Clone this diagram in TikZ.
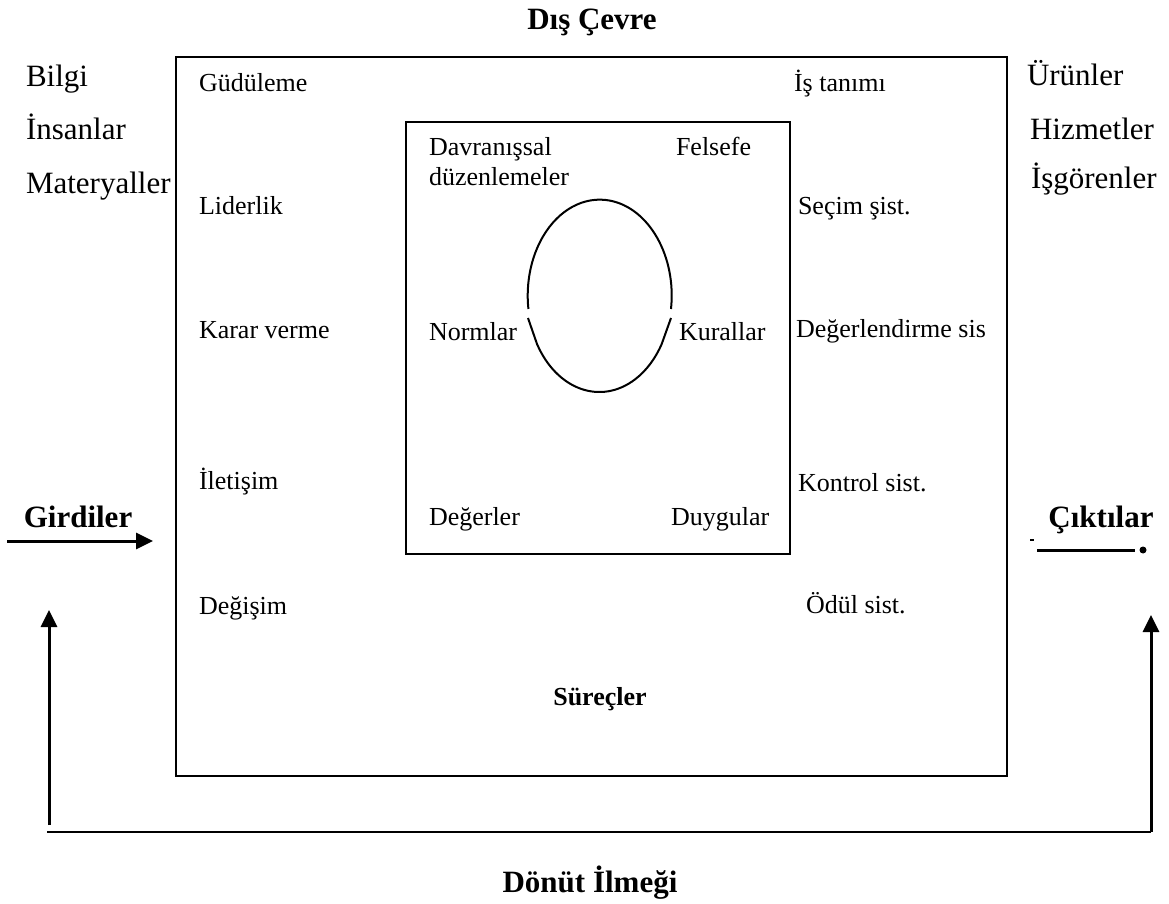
\documentclass[tikz,border=0pt]{standalone}
\usepackage{fontspec}
\setmainfont{Liberation Serif}
\usetikzlibrary{arrows.meta}

\begin{document}
\begin{tikzpicture}[
		x=0.5pt, y=-0.5pt,
		line width=1pt,
		every node/.style={inner sep=0pt, font=\fontsize{13}{15}\selectfont},
		outer label/.style={anchor=base west, font=\fontsize{15.5}{18}\selectfont},
		inner label/.style={anchor=base west},
		title/.style={anchor=base, font=\fontsize{15.5}{18}\selectfont\bfseries},
		flow/.style={line width=1.5pt, -{Triangle[length=8.5pt, width=8pt]}}
		]

	\useasboundingbox (0,0) rectangle (1169,904);

	% Outer and inner box
	\draw (176,57) rectangle (1007,776);
	\draw (406,122) rectangle (790,554);

	% Titles
	\node[title] (env) at (592,30) {Dış Çevre};
	\node[title] (inputs) at (78,527) {Girdiler};
	\node[title] (outputs) at (1101,527) {Çıktılar};
	\node[title, font=\fontsize{13}{15}\selectfont\bfseries] (process) at (600,705) {Süreçler};
	\node[title] (loop) at (590,892) {Dönüt İlmeği};

	% Inputs
	\node[outer label] (in1) at (25,87) {Bilgi};
	\node[outer label] (in2) at (25,140) {İnsanlar};
	\node[outer label] (in3) at (25,194) {Materyaller};

	% Outputs
	\node[outer label] (out1) at (1026,86) {Ürünler};
	\node[outer label] (out2) at (1029,140) {Hizmetler};
	\node[outer label] (out3) at (1030,189) {İşgörenler};

	% Left column
	\node[inner label] (l1) at (198,92) {Güdüleme};
	\node[inner label] (l2) at (198,215) {Liderlik};
	\node[inner label] (l3) at (198,338) {Karar verme};
	\node[inner label] (l4) at (198,489) {İletişim};
	\node[inner label] (l5) at (198,614) {Değişim};

	% Right column
	\node[inner label] (r1) at (793,92) {İş tanımı};
	\node[inner label] (r2) at (797,215) {Seçim şist.};
	\node[inner label] (r3) at (795,337) {Değerlendirme sis};
	\node[inner label] (r4) at (797,491) {Kontrol sist.};
	\node[inner label] (r5) at (805,613) {Ödül sist.};

	% Culture
	\node[inner label] (c1) at (428,156) {Davranışsal};
	\node[inner label] (c2) at (428,186) {düzenlemeler};
	\node[inner label] (c3) at (675,156) {Felsefe};
	\node[inner label] (c4) at (428,340) {Normlar};
	\node[inner label] (c5) at (678,340) {Kurallar};
	\node[inner label] (c6) at (428,525) {Değerler};
	\node[inner label] (c7) at (670,525) {Duygular};

	% Oval
	\draw (671,309) arc[start angle=8, end angle=-188, x radius=72, y radius=96];
	\draw (528,318) -- (537,344) arc[start angle=150, end angle=30, x radius=72, y radius=96] -- (671,318);

	% Input arrow
	\coordinate (inA) at (7,541);
	\coordinate (inB) at (153,541);
	\draw[flow] (inA) -- (inB);

	% Output mark
	\coordinate (outA) at (1037,550);
	\coordinate (outB) at (1135,550);
	\draw (1030,540) -- (1034,540);
	\draw[line width=1.5pt] (outA) -- (outB);
	\fill (1143,550) circle (3.5);

	% Feedback loop
	\coordinate (fbL) at (47,832);
	\coordinate (fbR) at (1151,832);
	\draw[line width=1.3pt] (fbL) -- (fbR);
	\draw[flow] (49,825) -- (49,610);
	\draw[flow] (fbR) -- (1151,615);

\end{tikzpicture}
\end{document}
